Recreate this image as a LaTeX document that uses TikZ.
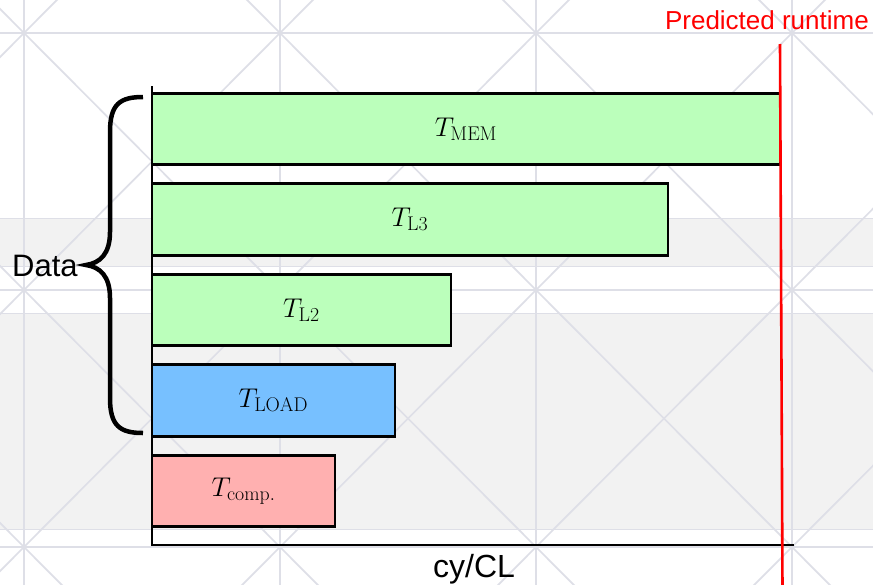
\documentclass[tikz,border=0pt]{standalone}
\usepackage{fontspec}
\newfontfamily\labelfont{Liberation Sans}
\definecolor{gridc}{RGB}{222,223,231}
\definecolor{bandc}{RGB}{242,242,242}
\definecolor{barg}{RGB}{187,255,187}
\definecolor{barb}{RGB}{119,192,255}
\definecolor{barp}{RGB}{255,176,176}
\definecolor{predred}{RGB}{255,0,0}
\newcommand{\barlabel}[1]{\scalebox{1.09}{$T_{\mathrm{#1}}$}}
\tikzset{
  gridline/.style={draw=gridc, line width=1.7pt},
  band/.style={fill=bandc, draw=gridc, line width=1pt},
  barbox/.style={draw=black, line width=2.8pt, anchor=west, outer sep=0pt, minimum height=71.5pt, inner sep=0pt,
                 font=\fontsize{26}{30}\selectfont},
  sanslabel/.style={font=\labelfont\fontsize{#1}{#1}\selectfont, inner sep=0pt},
  axisline/.style={draw=black, line width=2.4pt},
}
\begin{document}
\begin{tikzpicture}[x=1pt,y=-1pt]
\useasboundingbox (0,0) rectangle (873,584);
% background
\begin{scope}
  \clip (0,0) rectangle (873,584);
  \fill[white] (0,0) rectangle (873,584);
  \path[band] (-5,218) rectangle (880,266);
  \path[band] (-5,313) rectangle (880,529);
  \foreach \i in {-1,...,4} {
    \draw[gridline] ({24+256*\i},-250) -- ({24+256*\i},820);
  }
  \foreach \j in {-1,...,3} {
    \draw[gridline] (-250,{33+257*\j}) -- (1100,{33+257*\j});
  }
  \foreach \i in {-1,...,3} {
    \foreach \j in {-1,...,2} {
      \draw[gridline] ({24+256*\i},{33+257*\j}) -- ({280+256*\i},{290+257*\j});
      \draw[gridline] ({280+256*\i},{33+257*\j}) -- ({24+256*\i},{290+257*\j});
    }
  }
\end{scope}
% bars
\node[barbox, fill=barg, minimum width=628pt] (mem) at (152,129) {\barlabel{MEM}};
\node[barbox, fill=barg, minimum width=516pt] (lthree) at (152,219.5) {\barlabel{L3}};
\node[barbox, fill=barg, minimum width=299pt] (ltwo) at (152,310) {\barlabel{L2}};
\node[barbox, fill=barb, minimum width=243pt] (load) at (152,400.5) {\barlabel{LOAD}};
\node[barbox, fill=barp, minimum width=183pt] (comp) at (152,491) {\barlabel{comp.}};
% axes
\coordinate (ytop) at (152,86);
\coordinate (origin) at (152,545);
\coordinate (xend) at (794,545);
\draw[axisline] (ytop) -- (origin) -- (xend);
\node[sanslabel=32, anchor=base] (xlabel) at (474,577) {cy/CL};
% predicted runtime
\coordinate (rtop) at (780,44);
\coordinate (rbot) at (782.5,590);
\draw[predred, line width=2.6pt] (rtop) -- (rbot);
\node[sanslabel=26, anchor=base east, text=predred] (pred) at (869,29) {Predicted runtime};
% brace
\draw[black, line width=4.5pt]
  (143,97) .. controls (120,97) and (110,104) .. (110,132)
  -- (110,232) .. controls (110,254) and (100,263) .. (86,265)
  .. controls (100,267) and (110,276) .. (110,298)
  -- (110,398) .. controls (110,426) and (120,433) .. (143,433);
\node[sanslabel=31, anchor=base west] (data) at (12,276) {Data};
\end{tikzpicture}
\end{document}
